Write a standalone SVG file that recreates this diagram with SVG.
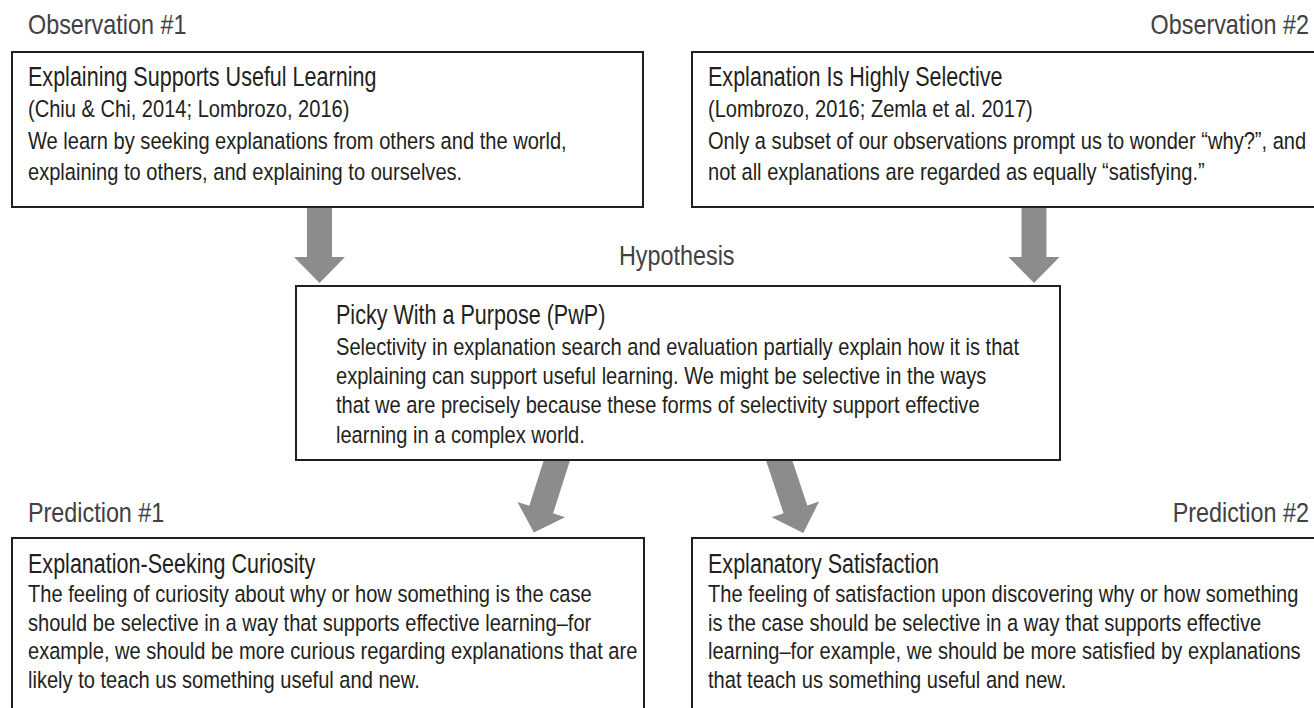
<svg xmlns="http://www.w3.org/2000/svg" width="1314" height="708" viewBox="0 0 1314 708">
<style>
text{font-family:"Liberation Sans",Arial,sans-serif;fill:#231f20}
.lbl{font-size:28.5px;fill:#414042}
.ttl{font-size:27.5px}
.bd{font-size:24.5px}
.box{fill:#ffffff;stroke:#231f20;stroke-width:2}
.arr{fill:#8b8c8e}
</style>
<defs>
<polygon id="arrowV" points="-12.5,-6 12.5,-6 12.5,50 25.5,50 0,76 -25.5,50 -12.5,50"/>
</defs>
<rect width="1314" height="708" fill="#ffffff"/>
<g id="connectors">
<use href="#arrowV" class="arr" transform="translate(319.5,207)"/>
<use href="#arrowV" class="arr" transform="translate(1034,207)"/>
<polygon class="arr" points="-12.5,-8 12.5,-8 12.5,52 25,52 0,76 -25,52 -12.5,52" transform="translate(557,460) rotate(17.7)"/>
<polygon class="arr" points="-12.5,-8 12.5,-8 12.5,52 25,52 0,77 -25,52 -12.5,52" transform="translate(779,460) rotate(-18.4)"/>
</g>
<g id="labels" transform="scale(0.82 1)">
<text id="label-observation1" class="lbl" x="34.15" y="34">Observation #1</text>
<text id="label-observation2" class="lbl" x="1596.34" y="34" text-anchor="end">Observation #2</text>
<text id="label-hypothesis" class="lbl" x="754.88" y="265">Hypothesis</text>
<text id="label-prediction1" class="lbl" x="34.15" y="522">Prediction #1</text>
<text id="label-prediction2" class="lbl" x="1596.34" y="522" text-anchor="end">Prediction #2</text>
</g>
<g id="node-observation1">
<rect class="box" x="12" y="52" width="631" height="155"/>
<text class="ttl" x="35.71" y="86" transform="scale(0.784 1)">Explaining Supports Useful Learning</text>
<g transform="scale(0.82 1)">
<text class="bd" x="34.15" y="117">(Chiu &amp; Chi, 2014; Lombrozo, 2016)</text>
<text class="bd" x="34.15" y="149">We learn by seeking explanations from others and the world,</text>
<text class="bd" x="34.15" y="180">explaining to others, and explaining to ourselves.</text>
</g>
</g>
<g id="node-observation2">
<rect class="box" x="692" y="52" width="640" height="155"/>
<text class="ttl" x="903.06" y="86" transform="scale(0.784 1)">Explanation Is Highly Selective</text>
<g transform="scale(0.82 1)">
<text class="bd" x="863.41" y="117">(Lombrozo, 2016; Zemla et al. 2017)</text>
<text class="bd" x="863.41" y="149">Only a subset of our observations prompt us to wonder “why?”, and</text>
<text class="bd" x="863.41" y="180">not all explanations are regarded as equally “satisfying.”</text>
</g>
</g>
<g id="node-hypothesis">
<rect class="box" x="296" y="286" width="764" height="174"/>
<text class="ttl" x="428.57" y="324" transform="scale(0.784 1)">Picky With a Purpose (PwP)</text>
<g transform="scale(0.82 1)">
<text class="bd" x="409.76" y="355">Selectivity in explanation search and evaluation partially explain how it is that</text>
<text class="bd" x="409.76" y="384">explaining can support useful learning. We might be selective in the ways</text>
<text class="bd" x="409.76" y="413">that we are precisely because these forms of selectivity support effective</text>
<text class="bd" x="409.76" y="443">learning in a complex world.</text>
</g>
</g>
<g id="node-prediction1">
<rect class="box" x="12" y="538" width="632" height="190"/>
<text class="ttl" x="35.71" y="573" transform="scale(0.784 1)">Explanation-Seeking Curiosity</text>
<g transform="scale(0.82 1)">
<text class="bd" x="34.15" y="602">The feeling of curiosity about why or how something is the case</text>
<text class="bd" x="34.15" y="631">should be selective in a way that supports effective learning–for</text>
<text class="bd" x="34.15" y="659">example, we should be more curious regarding explanations that are</text>
<text class="bd" x="34.15" y="688">likely to teach us something useful and new.</text>
</g>
</g>
<g id="node-prediction2">
<rect class="box" x="692" y="538" width="640" height="190"/>
<text class="ttl" x="903.06" y="573" transform="scale(0.784 1)">Explanatory Satisfaction</text>
<g transform="scale(0.82 1)">
<text class="bd" x="863.41" y="602">The feeling of satisfaction upon discovering why or how something</text>
<text class="bd" x="863.41" y="631">is the case should be selective in a way that supports effective</text>
<text class="bd" x="863.41" y="659">learning–for example, we should be more satisfied by explanations</text>
<text class="bd" x="863.41" y="688">that teach us something useful and new.</text>
</g>
</g>
</svg>
